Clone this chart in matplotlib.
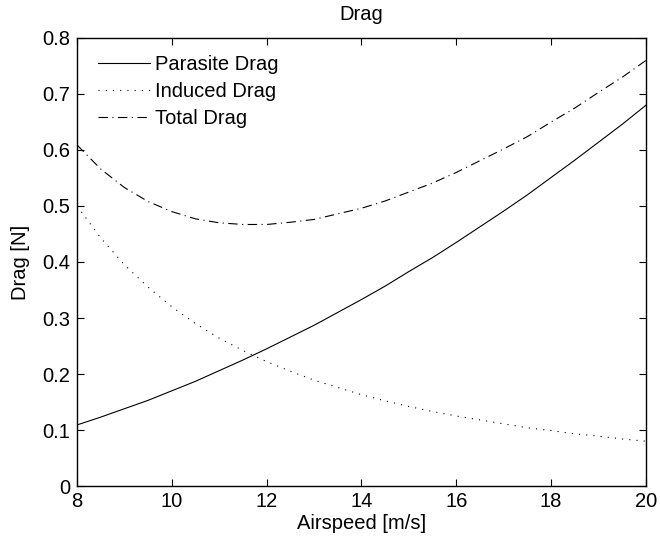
import matplotlib
matplotlib.use("Agg")
import matplotlib.pyplot as plt

airspeed = [8, 8.5, 9, 9.5, 10, 10.5, 11, 11.5, 12, 12.5, 13, 13.5, 14, 14.5,
            15, 15.5, 16, 16.5, 17, 17.5, 18, 18.5, 19, 19.5, 20]
parasite = [0.109, 0.123, 0.138, 0.153, 0.170, 0.187, 0.206, 0.225, 0.245, 0.266,
            0.287, 0.310, 0.333, 0.357, 0.383, 0.408, 0.435, 0.463, 0.491, 0.520,
            0.551, 0.582, 0.614, 0.646, 0.680]
induced = [0.500, 0.443, 0.395, 0.355, 0.320, 0.290, 0.264, 0.242, 0.222, 0.205,
           0.189, 0.176, 0.163, 0.152, 0.142, 0.133, 0.125, 0.118, 0.111, 0.104,
           0.099, 0.093, 0.089, 0.084, 0.080]
total = [0.609, 0.566, 0.533, 0.508, 0.490, 0.477, 0.470, 0.467, 0.467, 0.471,
         0.476, 0.486, 0.496, 0.509, 0.525, 0.541, 0.560, 0.581, 0.602, 0.624,
         0.650, 0.675, 0.703, 0.730, 0.760]
xticks = [8, 10, 12, 14, 16, 18, 20]
yticks = [0, 0.1, 0.2, 0.3, 0.4, 0.5, 0.6, 0.7, 0.8]
labels = ["Parasite Drag", "Induced Drag", "Total Drag"]

plt.rcParams['font.family'] = ['Liberation Sans', 'DejaVu Sans']
fs = 14.5
lw = 0.8

fig = plt.figure(figsize=(6.60, 5.39), dpi=100)
ax = fig.add_axes([77/660, 53/539, 569/660, 448/539])

ax.plot(airspeed, parasite, color='black', linestyle='-', linewidth=lw, label=labels[0])
ax.plot(airspeed, induced, color='black', linestyle=(0, (1, 5.5)), linewidth=lw, label=labels[1])
ax.plot(airspeed, total, color='black', linestyle=(0, (8.5, 4, 1, 4)), linewidth=lw, label=labels[2])

ax.set_xlim(8, 20)
ax.set_ylim(0, 0.8)
ax.set_xticks(xticks)
ax.set_xticklabels([f"{v:g}" for v in xticks])
ax.set_yticks(yticks)
ax.set_yticklabels([f"{v:g}" for v in yticks])
ax.tick_params(direction='in', top=True, right=True, length=5, width=0.8,
               labelsize=fs, colors='black')
ax.tick_params(axis='x', pad=4.5)
ax.tick_params(axis='y', pad=5)
for s in ax.spines.values():
    s.set_linewidth(1.0)

ax.set_xlabel("Airspeed [m/s]", fontsize=fs, labelpad=2)
ax.set_ylabel("Drag [N]", fontsize=fs, labelpad=9)
ax.set_title("Drag", fontsize=fs, pad=13)

ax.legend(loc='upper left', bbox_to_anchor=(0.037, 0.962), frameon=False,
          fontsize=fs, handlelength=2.6, handletextpad=0.25, labelspacing=0.4,
          borderaxespad=0, borderpad=0)

fig.savefig("out.png", dpi=100)
